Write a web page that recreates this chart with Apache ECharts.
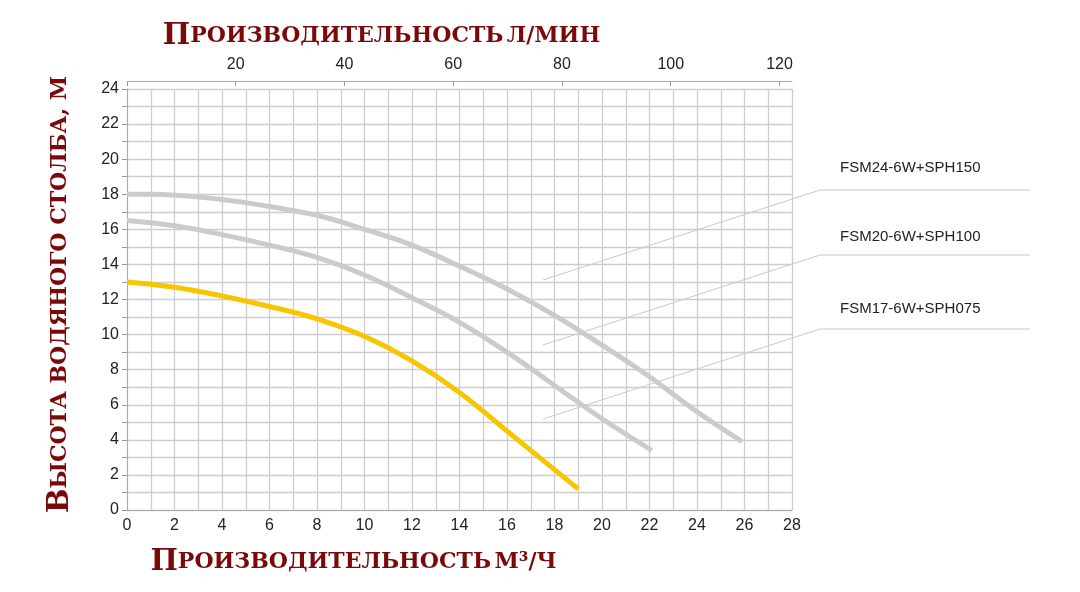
<!DOCTYPE html>
<html><head><meta charset="utf-8">
<script src="https://cdn.jsdelivr.net/npm/echarts@6/dist/echarts.min.js"></script>
<style>html,body{margin:0;background:#fff}#c{width:1080px;height:592px}</style>
</head><body><div id="c"></div>
<script>
const seriesNames = ['FSM24-6W+SPH150','FSM20-6W+SPH100','FSM17-6W+SPH075'];
const top24 = [[0,18],[1,18],[4,17.7],[6,17.3],[8,16.8],[10,16],[12,15.1],[14,13.9],[16,12.6],[18,11.1],[20,9.4],[22,7.6],[24,5.6],[25.9,3.9]];
const mid20 = [[0,16.5],[2,16.2],[4,15.7],[6,15.1],[8,14.4],[10,13.4],[12,12.1],[14,10.7],[16,9],[18,7.1],[20,5.2],[22.1,3.4]];
const low17 = [[0,13],[2,12.7],[4,12.2],[6,11.6],[8,10.9],[10,9.9],[12,8.5],[14,6.7],[16,4.5],[18,2.3],[19,1.2]];
const ttl = {fontFamily:'DejaVu Serif',fontWeight:'bold',color:'#7a0a0a'};
const big = Object.assign({fontSize:29},ttl), sm = Object.assign({fontSize:22},ttl);
const chart = echarts.init(document.getElementById('c'));
const lbl = {fontFamily:'Liberation Sans',fontSize:16,color:'#222'};
function curve(name,data,color){return {name,type:'line',data,smooth:0.4,showSymbol:false,lineStyle:{color,width:5},itemStyle:{color},xAxisIndex:0};}
chart.setOption({
 animation:false,
 grid:{left:127,right:288,top:89,bottom:82},
 xAxis:[
  {type:'value',min:0,max:28,interval:1,position:'bottom',
   axisLine:{lineStyle:{color:'#aaa'}},axisTick:{show:false},
   axisLabel:Object.assign({interval:1,formatter:v=>v%2===0?v:''},lbl),
   splitLine:{show:true,lineStyle:{color:'#cdcdcd',width:1.3}},
   name:'{a|П}{b|РОИЗВОДИТЕЛЬНОСТЬ} {b|М³/Ч}',nameLocation:'middle',nameGap:38,
   nameTextStyle:{rich:{a:big,b:sm},padding:[0,212,0,0]}},
  {type:'value',min:0,max:122.3,interval:20,position:'top',offset:8,
   axisLine:{show:true,lineStyle:{color:'#aaa'}},axisTick:{show:true,length:5,inside:true,lineStyle:{color:'#999'}},
   axisLabel:Object.assign({formatter:v=>v===0?'':v},lbl),splitLine:{show:false},
   name:'{a|П}{b|РОИЗВОДИТЕЛЬНОСТЬ} {b|Л/МИН}',nameLocation:'middle',nameGap:30,
   nameTextStyle:{rich:{a:big,b:sm},padding:[0,156,0,0]}}
 ],
 yAxis:{type:'value',min:0,max:24,interval:1,
   axisLine:{show:true,lineStyle:{color:'#aaa'}},axisTick:{show:true,interval:0,length:5,lineStyle:{color:'#999'}},
   axisLabel:Object.assign({interval:1,formatter:v=>v%2===0?v:''},lbl),
   splitLine:{show:true,lineStyle:{color:'#cdcdcd',width:1.3}},
   name:'{a|В}{b|ЫСОТА ВОДЯНОГО СТОЛБА, М}',nameLocation:'middle',nameGap:52,nameRotate:90,
   nameTextStyle:{rich:{a:big,b:sm},padding:[0,0,0,10]}},
 series:[curve(seriesNames[0],top24,'#cbcbcb'),curve(seriesNames[1],mid20,'#cbcbcb'),curve(seriesNames[2],low17,'#f7c600')],
 graphic:[
  {type:'polyline',shape:{points:[[543,280],[820,190],[1030,190]]},style:{stroke:'#c8c8c8',lineWidth:1,fill:null}},
  {type:'polyline',shape:{points:[[543,345],[820,255],[1030,255]]},style:{stroke:'#c8c8c8',lineWidth:1,fill:null}},
  {type:'polyline',shape:{points:[[543,419],[820,329],[1030,329]]},style:{stroke:'#c8c8c8',lineWidth:1,fill:null}},
  {type:'text',left:840,top:160,style:{text:seriesNames[0],font:'15px Liberation Sans',fill:'#222'}},
  {type:'text',left:840,top:229,style:{text:seriesNames[1],font:'15px Liberation Sans',fill:'#222'}},
  {type:'text',left:840,top:301,style:{text:seriesNames[2],font:'15px Liberation Sans',fill:'#222'}}
 ]
});
</script></body></html>
